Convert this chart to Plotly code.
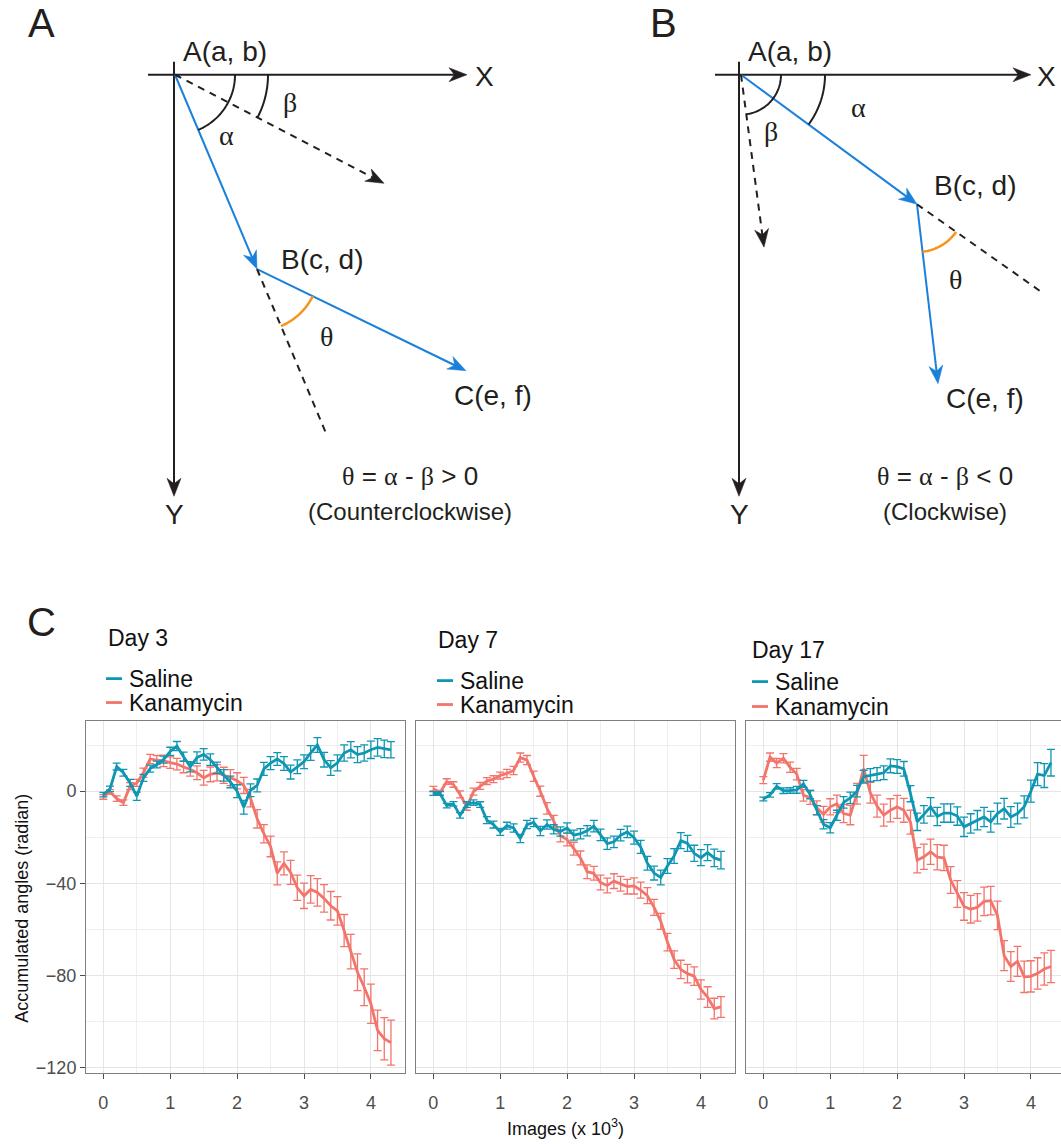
import numpy as np
import plotly.graph_objects as go

# ---------------- data (panel C) ----------------
images = [0.0, 0.1, 0.2, 0.3, 0.4, 0.5, 0.6, 0.7, 0.8, 0.9, 1.0, 1.1, 1.2, 1.3, 1.4,
          1.5, 1.6, 1.7, 1.8, 1.9, 2.0, 2.1, 2.2, 2.3, 2.4, 2.5, 2.6, 2.7, 2.8, 2.9,
          3.0, 3.1, 3.2, 3.3, 3.4, 3.5, 3.6, 3.7, 3.8, 3.9, 4.0, 4.1, 4.2, 4.3]

day3_saline = [-1.5, 1.0, 10.7, 8.0, 3.6, -2.2, 5.8, 9.8, 11.6, 13.7, 17.3, 19.6, 15.0, 10.6, 14.6,
               16.0, 13.7, 10.1, 6.9, 4.0, 0.0, -7.0, 0.4, 2.5, 9.7, 12.2, 14.0, 12.0, 8.3, 10.6,
               12.8, 16.6, 20.1, 13.7, 10.1, 12.3, 16.6, 18.0, 15.9, 16.6, 18.0, 19.0, 18.4, 18.0]
day3_saline_err = [1.0, 1.2, 1.5, 1.5, 1.5, 1.8, 1.5, 1.5, 1.5, 1.5, 1.8, 2.0, 2.0, 2.2, 2.5,
                   2.5, 2.5, 2.5, 2.5, 2.5, 2.8, 3.0, 2.8, 2.8, 2.8, 2.8, 2.8, 3.0, 3.0, 3.0,
                   3.0, 3.2, 3.2, 3.2, 3.2, 3.5, 3.5, 3.5, 3.5, 3.5, 3.8, 3.8, 3.8, 3.5]
day3_kana = [-2.5, -0.3, -3.2, -5.0, 2.2, 3.6, 8.0, 14.0, 13.5, 13.2, 12.4, 11.8, 10.5, 9.5, 8.0,
             5.8, 7.3, 8.0, 6.9, 5.9, 4.5, 2.5, -3.0, -12.0, -18.5, -24.0, -35.7, -31.4, -35.3, -42.0,
             -45.5, -42.7, -44.0, -46.6, -49.8, -52.0, -60.6, -69.7, -78.7, -85.2, -92.4, -104.0, -107.6, -109.3]
day3_kana_err = [1.0, 1.0, 1.2, 1.2, 1.5, 1.5, 2.0, 2.0, 2.0, 2.5, 2.5, 2.5, 2.5, 3.0, 3.0,
                 3.2, 3.2, 3.5, 3.5, 3.5, 3.5, 3.5, 3.8, 4.0, 4.0, 4.5, 5.0, 5.0, 5.2, 5.5,
                 5.5, 6.0, 6.0, 6.0, 6.2, 6.2, 7.0, 7.5, 8.0, 8.0, 8.5, 8.8, 9.2, 9.8]

day7_saline = [-1.0, -1.0, -6.3, -5.5, -10.5, -5.8, -5.0, -5.8, -12.6, -14.5, -17.7, -15.0, -16.0, -20.6, -14.5,
               -13.6, -17.3, -14.5, -16.6, -17.5, -16.0, -19.1, -18.5, -17.2, -15.2, -19.0, -22.8, -22.0, -19.1, -17.7,
               -20.2, -24.2, -31.3, -35.6, -37.5, -32.5, -28.2, -21.5, -22.7, -27.0, -28.9, -26.7, -29.0, -30.0]
day7_saline_err = [0.8, 0.8, 1.0, 1.0, 1.2, 1.2, 1.2, 1.2, 1.5, 1.5, 1.5, 1.5, 1.8, 1.8, 1.8,
                   1.8, 2.0, 2.0, 2.0, 2.0, 2.2, 2.2, 2.2, 2.2, 2.5, 2.5, 2.5, 2.5, 2.5, 2.5,
                   2.8, 2.8, 3.0, 3.0, 3.2, 3.2, 3.2, 3.5, 3.5, 3.5, 3.5, 3.5, 3.8, 3.8]
day7_kana = [1.1, -0.7, 4.2, 2.9, -1.4, -6.8, -0.2, 2.3, 4.4, 5.2, 6.8, 7.7, 9.0, 14.6, 13.5,
             6.5, 0.0, -7.5, -13.0, -19.5, -21.0, -25.0, -29.0, -35.0, -35.7, -39.7, -41.0, -39.1, -40.2, -41.5,
             -41.2, -43.0, -45.4, -50.5, -56.6, -65.6, -73.2, -77.5, -79.3, -80.4, -86.2, -89.5, -94.5, -93.8]
day7_kana_err = [1.0, 1.0, 1.2, 1.2, 1.5, 1.5, 1.5, 1.5, 1.5, 1.5, 1.5, 1.8, 1.8, 2.0, 2.0,
                 2.2, 2.2, 2.5, 2.5, 2.5, 2.8, 2.8, 3.0, 3.0, 3.0, 3.2, 3.2, 3.2, 3.2, 3.2,
                 3.5, 3.5, 3.5, 3.5, 3.5, 3.8, 3.8, 4.0, 4.0, 4.0, 4.2, 4.5, 4.5, 4.5]

day17_saline = [-3.4, -1.6, 2.1, 0.2, 0.3, 0.6, 3.2, -1.5, -8.3, -14.4, -15.9, -10.5, -4.9, -2.9, 0.0,
                6.3, 7.0, 7.4, 8.0, 11.0, 10.7, 9.7, -1.1, -13.3, -10.1, -6.8, -11.0, -9.5, -9.5, -10.8,
                -15.5, -14.0, -12.6, -11.2, -13.3, -9.7, -7.6, -11.2, -9.7, -6.8, 0.0, 7.4, 6.8, 12.4]
day17_saline_err = [0.8, 1.0, 1.2, 1.2, 1.2, 1.5, 1.5, 1.8, 2.0, 2.0, 2.2, 2.2, 2.5, 2.5, 2.5,
                    2.8, 2.8, 2.8, 3.0, 3.0, 3.0, 3.2, 3.5, 3.8, 3.8, 4.0, 4.0, 4.0, 4.0, 4.0,
                    4.2, 4.2, 4.2, 4.2, 4.5, 4.5, 4.5, 4.5, 4.5, 4.8, 4.8, 5.0, 5.2, 5.8]
day17_kana = [4.8, 14.8, 12.2, 14.3, 10.4, 7.4, -1.8, -2.7, -7.2, -10.1, -6.8, -5.5, -9.7, -10.4, -1.1,
              9.8, -0.7, -6.5, -10.4, -8.3, -6.8, -8.3, -13.5, -30.0, -28.5, -26.3, -28.7, -29.0, -38.6, -44.7,
              -50.1, -51.3, -50.5, -47.9, -47.6, -54.0, -71.5, -76.2, -74.0, -80.7, -80.5, -79.2, -77.3, -76.2]
day17_kana_err = [1.5, 1.8, 2.0, 2.0, 2.2, 2.5, 2.5, 3.0, 3.0, 3.5, 3.5, 3.8, 4.0, 4.2, 4.5,
                  5.8, 4.5, 4.8, 4.8, 5.0, 5.0, 5.2, 5.2, 5.5, 5.5, 5.5, 5.5, 5.5, 5.8, 5.8,
                  6.0, 6.0, 6.0, 6.2, 6.2, 6.2, 6.5, 6.5, 6.5, 6.8, 6.8, 6.8, 7.0, 7.0]

day_titles = ["Day 3", "Day 7", "Day 17"]
series_names = ["Saline", "Kanamycin"]
x_ticks = [0, 1, 2, 3, 4]
y_ticks = [-120, -80, -40, 0]

# ---------------- layout helpers ----------------
W, H = 1061, 1144
def X(px):
    return px / W
def Y(py):
    return 1 - py / H

TEAL = "#0F96B2"
RED = "#F2746B"
BLUE = "#1B80DA"
ORANGE = "#F7941D"
INK = "#231F20"
SANS = "Liberation Sans, Arial, sans-serif"
SERIF = "Liberation Serif, Times New Roman, serif"

fig = go.Figure()

def seg(x0, y0, x1, y1, color, width=2.0, dash=None):
    fig.add_shape(type="line", xref="paper", yref="paper",
                  x0=X(x0), y0=Y(y0), x1=X(x1), y1=Y(y1),
                  line=dict(color=color, width=width, dash=dash), layer="above")

def head(tx, ty, fx, fy, color, L=18, w=7):
    d = np.array([tx - fx, ty - fy], float)
    d /= np.hypot(*d)
    n = np.array([-d[1], d[0]])
    tip = np.array([tx, ty], float)
    back = tip - L * d
    p1 = back + w * n
    p2 = tip - 0.7 * L * d
    p3 = back - w * n
    pts = [tip, p1, p2, p3]
    path = "M " + " L ".join(f"{X(p[0]):.5f},{Y(p[1]):.5f}" for p in pts) + " Z"
    fig.add_shape(type="path", xref="paper", yref="paper", path=path,
                  fillcolor=color, line=dict(color=color, width=0.5), layer="above")

def arrow(x0, y0, x1, y1, color, width=2.0, dash=None, L=18, w=7):
    d = np.array([x1 - x0, y1 - y0], float)
    d /= np.hypot(*d)
    ex, ey = x1 - 0.6 * L * d[0], y1 - 0.6 * L * d[1]
    seg(x0, y0, ex, ey, color, width, dash)
    head(x1, y1, x0, y0, color, L, w)

def arc(cx, cy, r, a0, a1, color, width=2.0):
    t = np.radians(np.linspace(a0, a1, 40))
    xs = cx + r * np.cos(t)
    ys = cy + r * np.sin(t)
    path = "M " + " L ".join(f"{X(a):.5f},{Y(b):.5f}" for a, b in zip(xs, ys))
    fig.add_shape(type="path", xref="paper", yref="paper", path=path,
                  line=dict(color=color, width=width), layer="above")

def text(px, py, s, size=23, family=SANS, color=INK, xanchor="center", angle=0):
    fig.add_annotation(x=X(px), y=Y(py), xref="paper", yref="paper", text=s,
                       showarrow=False, xanchor=xanchor, yanchor="middle",
                       textangle=angle, font=dict(family=family, size=size, color=color))

def ang(dx, dy):
    return np.degrees(np.arctan2(dy, dx))

LBL = 28
GRK = 28
sp = f'<span style="font-family:{SERIF}">'

# ---------------- panel A diagram ----------------
ax0, ay0 = 175, 75
bA = (257, 270)
cA = (466, 372)
dashA = (384, 184)
extA = (327, 437)
arrow(148, 75, 467, 75, INK, 2)
arrow(174, 62, 174, 498, INK, 2)
arrow(ax0, ay0, bA[0], bA[1], BLUE, 2)
arrow(bA[0], bA[1], cA[0], cA[1], BLUE, 2)
arrow(ax0, ay0, dashA[0], dashA[1], INK, 2, dash="7px,6px")
seg(bA[0], bA[1], extA[0], extA[1], INK, 2, dash="7px,6px")
arc(ax0, ay0, 60, 0, ang(bA[0] - ax0, bA[1] - ay0), INK, 2)
arc(ax0, ay0, 93, 0, ang(dashA[0] - ax0, dashA[1] - ay0), INK, 2)
arc(bA[0], bA[1], 62, ang(cA[0] - bA[0], cA[1] - bA[1]), ang(extA[0] - bA[0], extA[1] - bA[1]), ORANGE, 2.5)
text(41, 23, "A", size=40)
text(225, 52, "A(a, b)", size=LBL)
text(484, 77, "X", size=LBL)
text(174, 516, "Y", size=LBL)
text(226, 136, "α", size=GRK, family=SERIF)
text(290, 103, "β", size=GRK, family=SERIF)
text(322, 260, "B(c, d)", size=LBL)
text(326, 338, "θ", size=GRK, family=SERIF)
text(493, 397, "C(e, f)", size=LBL)
text(410, 478, f"{sp}θ</span> = {sp}α</span> - {sp}β</span> &gt; 0", size=26)
text(410, 513, "(Counterclockwise)", size=24)

# ---------------- panel B diagram ----------------
bx0, by0 = 741, 75
bB = (917, 205)
cB = (938, 385)
dashB = (764, 248)
extB = (1040, 292)
arrow(715, 75, 1031, 75, INK, 2)
arrow(739, 62, 739, 498, INK, 2)
arrow(bx0, by0, bB[0], bB[1], BLUE, 2)
arrow(bB[0], bB[1], cB[0], cB[1], BLUE, 2)
arrow(bx0, by0, dashB[0], dashB[1], INK, 2, dash="7px,6px")
seg(bB[0], bB[1], extB[0], extB[1], INK, 2, dash="7px,6px")
arc(bx0, by0, 84, 0, ang(bB[0] - bx0, bB[1] - by0), INK, 2)
arc(bx0, by0, 40, 0, ang(dashB[0] - bx0, dashB[1] - by0), INK, 2)
arc(bB[0], bB[1], 48, ang(extB[0] - bB[0], extB[1] - bB[1]), ang(cB[0] - bB[0], cB[1] - bB[1]), ORANGE, 2.5)
text(663, 23, "B", size=40)
text(790, 52, "A(a, b)", size=LBL)
text(1046, 77, "X", size=LBL)
text(739, 516, "Y", size=LBL)
text(858, 108, "α", size=GRK, family=SERIF)
text(771, 132, "β", size=GRK, family=SERIF)
text(975, 186, "B(c, d)", size=LBL)
text(955, 280, "θ", size=GRK, family=SERIF)
text(985, 400, "C(e, f)", size=LBL)
text(945, 478, f"{sp}θ</span> = {sp}α</span> - {sp}β</span> &lt; 0", size=26)
text(945, 513, "(Clockwise)", size=24)

# ---------------- panel C plots ----------------
text(41, 624, "C", size=40)
panels = [
    (day3_saline, day3_saline_err, day3_kana, day3_kana_err),
    (day7_saline, day7_saline_err, day7_kana, day7_kana_err),
    (day17_saline, day17_saline_err, day17_kana, day17_kana_err),
]
x_domains = [(86, 405), (416, 735), (746, 1061)]
x_ranges = [(-0.259, 4.51), (-0.259, 4.51), (-0.259, 4.45)]
title_pos = [(106, 640), (436, 642), (750, 652)]
legend_pos = [(106, 681, 705), (437, 683, 707), (752, 684, 709)]
y_dom = [Y(1077), Y(724)]
y_rng = [-122.6, 30.3]

grid_major = "#E5E5E5"
grid_minor = "#EFEFEF"
for k, (sal, sal_e, kan, kan_e) in enumerate(panels):
    xa = "x" if k == 0 else f"x{k + 1}"
    ya = "y" if k == 0 else f"y{k + 1}"
    fig.add_trace(go.Scatter(x=images, y=kan, xaxis=xa, yaxis=ya, mode="lines",
                             line=dict(color=RED, width=2.8), name=series_names[1], showlegend=False,
                             error_y=dict(type="data", array=kan_e, color=RED, thickness=1.3, width=4)))
    fig.add_trace(go.Scatter(x=images, y=sal, xaxis=xa, yaxis=ya, mode="lines",
                             line=dict(color=TEAL, width=2.8), name=series_names[0], showlegend=False,
                             error_y=dict(type="data", array=sal_e, color=TEAL, thickness=1.3, width=4)))
    xkey = "xaxis" if k == 0 else f"xaxis{k + 1}"
    ykey = "yaxis" if k == 0 else f"yaxis{k + 1}"
    d0, d1 = x_domains[k]
    fig.layout[xkey] = dict(
        domain=[X(d0), min(X(d1), 1.0)], range=list(x_ranges[k]), anchor=ya,
        tickvals=x_ticks, ticks="outside", ticklen=5, tickcolor="#4D4D4D",
        ticklabelstandoff=8,
        tickfont=dict(family=SANS, size=18, color="#4D4D4D"),
        showgrid=True, gridcolor=grid_major, gridwidth=1.2, zeroline=False,
        minor=dict(dtick=0.5, tick0=0, showgrid=True, gridcolor=grid_minor, gridwidth=1),
        showline=True, linecolor="#7F7F7F", linewidth=1, mirror=True)
    fig.layout[ykey] = dict(
        domain=y_dom, range=y_rng, anchor=xa,
        tickvals=y_ticks, ticks="outside" if k == 0 else "", ticklen=5, tickcolor="#4D4D4D",
        showticklabels=(k == 0),
        tickfont=dict(family=SANS, size=18, color="#4D4D4D"),
        showgrid=True, gridcolor=grid_major, gridwidth=1.2, zeroline=False,
        minor=dict(dtick=20, tick0=0, showgrid=True, gridcolor=grid_minor, gridwidth=1),
        showline=True, linecolor="#7F7F7F", linewidth=1, mirror=(k < 2))
    tx, ty = title_pos[k]
    text(tx, ty, day_titles[k], size=23, xanchor="left", color="#111111")
    lx, ly1, ly2 = legend_pos[k]
    seg(lx, ly1, lx + 16, ly1, TEAL, 2.8)
    seg(lx, ly2, lx + 16, ly2, RED, 2.8)
    text(lx + 21, ly1, series_names[0], size=23, xanchor="left", color="#111111")
    text(lx + 21, ly2, series_names[1], size=23, xanchor="left", color="#111111")

text(22, 912, "Accumulated angles (radian)", size=18, angle=-90, color="#111111")
text(565, 1131, "Images (x 10<sup>3</sup>)", size=18, color="#111111")

fig.update_layout(
    width=W, height=H, margin=dict(l=0, r=0, t=0, b=0),
    paper_bgcolor="white", plot_bgcolor="white", showlegend=False,
    font=dict(family=SANS),
)

fig.write_html("out.html", config={"displayModeBar": False},
               post_script="document.body.style.margin='0px';document.body.style.overflow='hidden';")
